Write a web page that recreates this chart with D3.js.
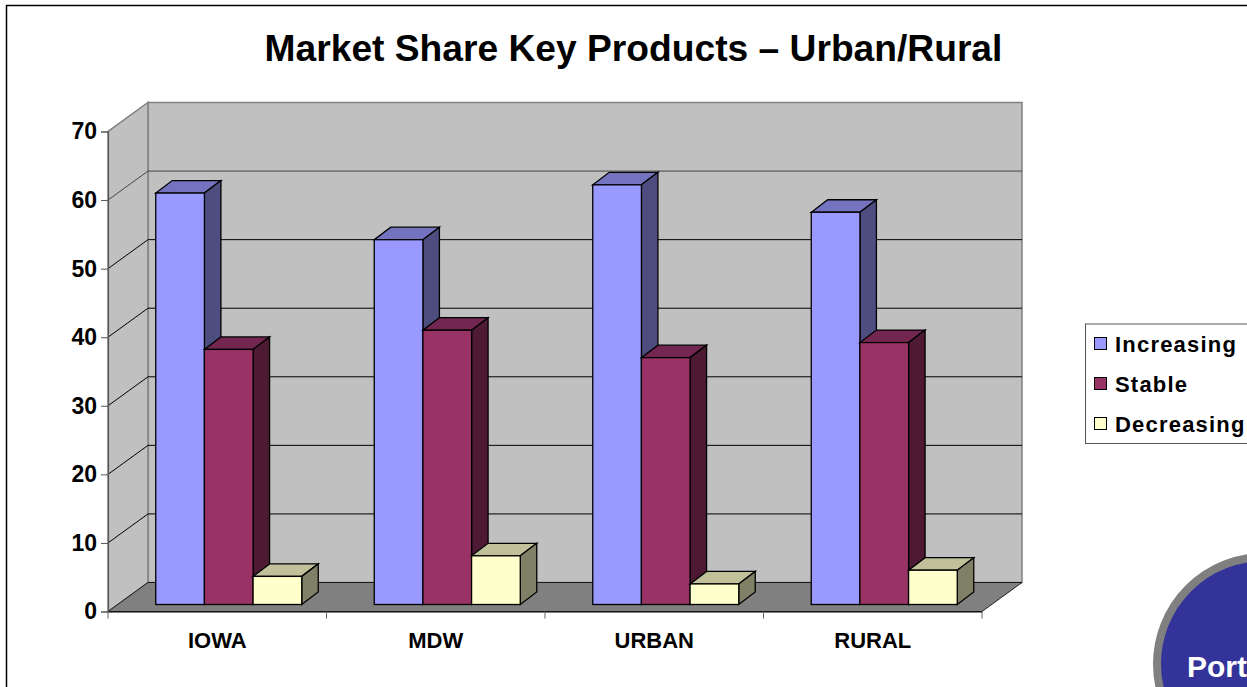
<!DOCTYPE html>
<html>
<head>
<meta charset="utf-8">
<script src="https://cdn.jsdelivr.net/npm/d3@7"></script>
<style>
  html, body { margin: 0; padding: 0; background: #fff; overflow: hidden; }
  text { font-family: "Liberation Sans", Arial, sans-serif; font-weight: bold; fill: #000; }
</style>
</head>
<body>
<svg id="chart"></svg>
<script>
var categories = ["IOWA", "MDW", "URBAN", "RURAL"];
var seriesNames = ["Increasing", "Stable", "Decreasing"];
var increasing = [60, 53.2, 61.2, 57.2];
var stable = [37.2, 40, 36, 38.2];
var decreasing = [4.1, 7.1, 3, 5];
var yTicks = [0, 10, 20, 30, 40, 50, 60, 70];

var seriesValues = [increasing, stable, decreasing];
var frontColors = ["#9999ff", "#993366", "#ffffcc"];
var topColors = ["#7373c0", "#732650", "#c0c09a"];
var sideColors = ["#4d4d80", "#4d1933", "#808066"];

var svgWidth = 1247;
var svgHeight = 687;
var svg = d3.select("#chart")
    .attr("width", svgWidth)
    .attr("height", svgHeight)
    .style("display", "block");

// 3d offsets: wall sits behind the axis plane, bars sit part way in
var wallDx = 40, wallDy = -29;
var barShiftX = 11, barShiftY = -7;
var barDx = 16.5, barDy = -12.5;
var groupWidth = 146;

var x = d3.scaleBand().domain(categories).range([108, 982]);
var xSeries = d3.scaleBand().domain(seriesNames).range([0, groupWidth]);
var y = d3.scaleLinear().domain([0, 70]).range([611.5, 131.5]);
var xLeft = x.range()[0], xRight = x.range()[1];

function pts(list) {
  return list.map(function(p) { return p.join(","); }).join(" ");
}

// outer frame, only top and left show in the crop
svg.append("path")
    .attr("d", "M6.5," + svgHeight + "V5.5H" + svgWidth)
    .attr("fill", "none")
    .attr("stroke", "#000")
    .attr("stroke-width", 1.5);

svg.append("text")
    .attr("x", 633.5)
    .attr("y", 61)
    .attr("text-anchor", "middle")
    .style("font-size", "37.2px")
    .text("Market Share Key Products \u2013 Urban/Rural");

// walls and floor
svg.append("polygon")
    .attr("points", pts([[xLeft + wallDx, y(0) + wallDy], [xRight + wallDx, y(0) + wallDy],
                         [xRight + wallDx, y(70) + wallDy], [xLeft + wallDx, y(70) + wallDy]]))
    .attr("fill", "#c0c0c0")
    .attr("stroke", "#808080")
    .attr("stroke-width", 1.5);
svg.append("polygon")
    .attr("points", pts([[xLeft, y(0)], [xLeft + wallDx, y(0) + wallDy],
                         [xLeft + wallDx, y(70) + wallDy], [xLeft, y(70)]]))
    .attr("fill", "#c0c0c0")
    .attr("stroke", "#808080")
    .attr("stroke-width", 1.5);

// grid lines, wall part and side part
var gridValues = yTicks.filter(function(d) { return d > 0 && d < 70; });
svg.selectAll("path.grid")
    .data(gridValues)
    .enter()
    .append("path")
    .attr("class", "grid")
    .attr("fill", "none")
    .attr("stroke", function(d) { return d == 60 ? "#444" : "#000"; })
    .attr("stroke-width", 1)
    .attr("d", function(d) {
      return "M" + xLeft + "," + y(d) + "L" + (xLeft + wallDx) + "," + (y(d) + wallDy) + "H" + (xRight + wallDx);
    });

svg.append("polygon")
    .attr("points", pts([[xLeft, y(0)], [xRight, y(0)], [xRight + wallDx, y(0) + wallDy], [xLeft + wallDx, y(0) + wallDy]]))
    .attr("fill", "#808080")
    .attr("stroke", "#000")
    .attr("stroke-width", 0.8);

// bars
var groups = svg.selectAll("g.group")
    .data(categories)
    .enter()
    .append("g")
    .attr("class", "group")
    .attr("transform", function(d) {
      return "translate(" + (x(d) + (x.bandwidth() - groupWidth) / 2 + barShiftX + 0.5) + "," + barShiftY + ")";
    });

groups.each(function(cat, c) {
  var g = d3.select(this);
  seriesNames.forEach(function(name, s) {
    var v = seriesValues[s][c];
    var x0 = xSeries(name), w = xSeries.bandwidth();
    var yTop = y(v), yBase = y(0);
    // top face
    g.append("polygon")
        .attr("points", pts([[x0, yTop], [x0 + w, yTop], [x0 + w + barDx, yTop + barDy], [x0 + barDx, yTop + barDy]]))
        .attr("fill", topColors[s])
        .attr("stroke", "#000")
        .attr("stroke-width", 1.3);
    // side face
    g.append("polygon")
        .attr("points", pts([[x0 + w, yTop], [x0 + w + barDx, yTop + barDy], [x0 + w + barDx, yBase + barDy], [x0 + w, yBase]]))
        .attr("fill", sideColors[s])
        .attr("stroke", "#000")
        .attr("stroke-width", 1.3);
    // front face
    g.append("rect")
        .attr("x", x0)
        .attr("y", yTop)
        .attr("width", w)
        .attr("height", yBase - yTop)
        .attr("fill", frontColors[s])
        .attr("stroke", "#000")
        .attr("stroke-width", 1.3);
  });
});

// axes
var yAxis = svg.append("g")
    .attr("transform", "translate(" + xLeft + ",0)")
    .call(d3.axisLeft(y).tickValues(yTicks).tickSize(7).tickPadding(4));
yAxis.select(".domain").attr("stroke", "#555").attr("stroke-width", 1.2);
yAxis.selectAll(".tick line").attr("stroke", "#555");
yAxis.selectAll("text")
    .style("font-size", "23px")
    .style("font-family", '"Liberation Sans", Arial, sans-serif')
    .style("font-weight", "bold");

var xAxis = svg.append("g")
    .attr("transform", "translate(0," + y(0) + ")")
    .call(d3.axisBottom(x).tickSize(0).tickPadding(21));
xAxis.select(".domain").attr("stroke", "#000");
xAxis.selectAll("text")
    .style("font-size", "22px")
    .style("font-family", '"Liberation Sans", Arial, sans-serif')
    .style("font-weight", "bold");

// separators between the categories
svg.selectAll("line.sep")
    .data(categories.concat(["end"]))
    .enter()
    .append("line")
    .attr("class", "sep")
    .attr("x1", function(d, i) { return xLeft + i * x.step(); })
    .attr("x2", function(d, i) { return xLeft + i * x.step(); })
    .attr("y1", y(0))
    .attr("y2", y(0) + 7)
    .attr("stroke", "#666");

// legend
var legend = svg.append("g");
legend.append("rect")
    .attr("x", 1085.5)
    .attr("y", 324)
    .attr("width", 180)
    .attr("height", 119.5)
    .attr("fill", "#fff")
    .attr("stroke", "#555");
var rows = legend.selectAll("g.row")
    .data(seriesNames)
    .enter()
    .append("g")
    .attr("class", "row")
    .attr("transform", function(d, i) { return "translate(1094," + (344 + i * 40) + ")"; });
rows.append("rect")
    .attr("x", 0.5)
    .attr("y", -6.5)
    .attr("width", 12)
    .attr("height", 12)
    .attr("fill", function(d, i) { return frontColors[i]; })
    .attr("stroke", "#000");
rows.append("text")
    .attr("x", 21)
    .attr("y", 7.5)
    .style("font-size", "22px")
    .style("letter-spacing", "1.2px")
    .text(function(d) { return d; });

// corner badge, cut by the page edge
svg.append("circle")
    .attr("cx", 1264)
    .attr("cy", 664)
    .attr("r", 107)
    .attr("fill", "#333399")
    .attr("stroke", "#808080")
    .attr("stroke-width", 8);
svg.append("text")
    .attr("x", 1187)
    .attr("y", 677)
    .style("font-size", "30px")
    .style("fill", "#fff")
    .text("Port");
</script>
</body>
</html>
